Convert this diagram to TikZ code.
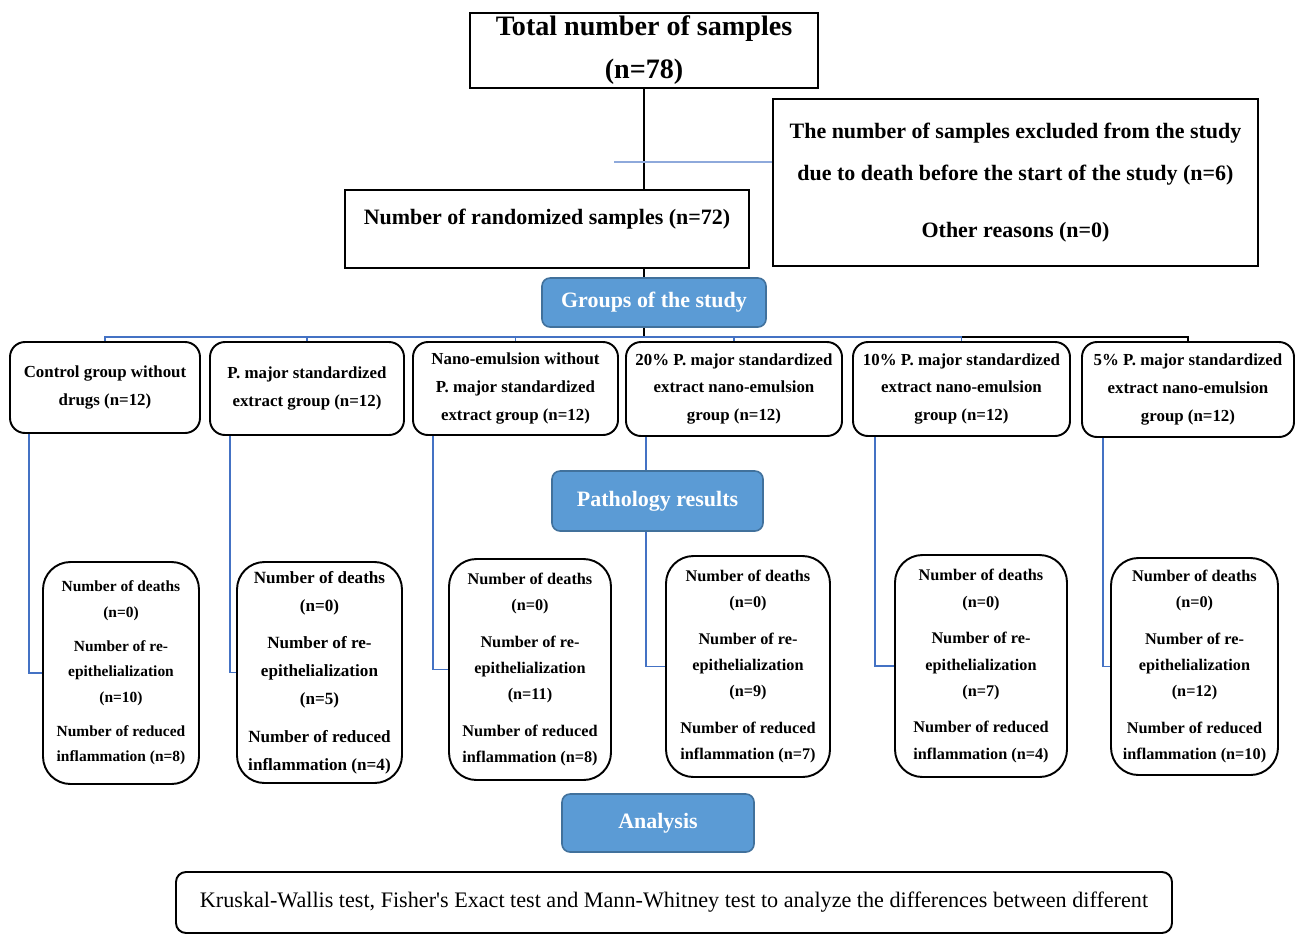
\documentclass[tikz,border=0pt]{standalone}
\usepackage{fontspec}
\setmainfont{Liberation Serif}
\usetikzlibrary{backgrounds}
\definecolor{headblue}{HTML}{5B9BD5}
\definecolor{headedge}{HTML}{41719C}
\definecolor{linkblue}{HTML}{4472C4}
\definecolor{exclblue}{HTML}{8EA9DB}
\newcommand\restext[4]{Number of deaths\\(n=#1)\\[#4]Number of re-\\epithelialization\\(n=#2)\\[#4]Number of reduced\\inflammation (n=#3)}

\begin{document}
\begin{tikzpicture}[x=0.02cm,y=-0.02cm,
  sz/.style 2 args={minimum width=#1*0.02cm, minimum height=#2*0.02cm},
  plainbox/.style={draw=black, line width=1.1pt, inner sep=0pt, align=center},
  groupbox/.style={plainbox, rounded corners=0.3cm, font=\bfseries\fontsize{9.6}{15.9}\selectfont},
  resultbox/.style={plainbox, rounded corners=0.55cm},
  headbox/.style={fill=headblue, draw=headedge, line width=0.9pt, rounded corners=0.16cm, inner sep=0pt, text=white, font=\bfseries\fontsize{12.5}{15}\selectfont},
  link/.style={linkblue, line width=0.9pt},
  stem/.style={black, line width=1.1pt}]
\useasboundingbox (0,0) rectangle (1296,934);

\node[plainbox, sz={348}{75}, font=\bfseries\fontsize{16}{24.4}\selectfont] (total) at (644,50.5) {Total number of samples\\(n=78)};
\node[plainbox, sz={485}{167}, font=\bfseries\fontsize{12.5}{23.8}\selectfont] (excl) at (1015.5,182.5) {The number of samples excluded from the study\\due to death before the start of the study (n=6)\\[8.5pt]Other reasons (n=0)};
\node[plainbox, sz={404}{78}] (rand) at (547,229) {};
\node[font=\bfseries\fontsize{12.5}{15}\selectfont] (randtext) at (547,219) {Number of randomized samples (n=72)};
\node[headbox, sz={224}{49}] (groups) at (654,302.5) {Groups of the study};

\node[groupbox, sz={190}{91}] (g1) at (105,387.5) {Control group without\\drugs (n=12)};
\node[groupbox, sz={194}{93}] (g2) at (307,388.5) {P. major standardized\\extract group (n=12)};
\node[groupbox, sz={205}{93}] (g3) at (515.5,388.5) {Nano-emulsion without\\P. major standardized\\extract group (n=12)};
\node[groupbox, sz={216}{94}] (g4) at (734,389) {20\% P. major standardized\\extract nano-emulsion\\group (n=12)};
\node[groupbox, sz={217}{94}] (g5) at (961.5,389) {10\% P. major standardized\\extract nano-emulsion\\group (n=12)};
\node[groupbox, sz={212}{95}] (g6) at (1188,389.5) {5\% P. major standardized\\extract nano-emulsion\\group (n=12)};

\node[headbox, sz={211}{60}] (patho) at (657.5,501) {Pathology results};

\node[resultbox, sz={156}{222}, font=\bfseries\fontsize{8.8}{14.5}\selectfont] (r1) at (121,673) {\restext{0}{10}{8}{4.8pt}};
\node[resultbox, sz={165}{221}, font=\bfseries\fontsize{9.75}{15.8}\selectfont] (r2) at (319.5,672.5) {\restext{0}{5}{4}{5.7pt}};
\node[resultbox, sz={162}{221}, font=\bfseries\fontsize{9.25}{15}\selectfont] (r3) at (530,669.5) {\restext{0}{11}{8}{5.7pt}};
\node[resultbox, sz={164}{221}, font=\bfseries\fontsize{9.25}{15}\selectfont] (r4) at (748,666.5) {\restext{0}{9}{7}{5.7pt}};
\node[resultbox, sz={172}{222}, font=\bfseries\fontsize{9.25}{15}\selectfont] (r5) at (981,666) {\restext{0}{7}{4}{5.7pt}};
\node[resultbox, sz={167}{217}, font=\bfseries\fontsize{9.25}{15}\selectfont] (r6) at (1194.5,666.5) {\restext{0}{12}{10}{5.7pt}};

\node[headbox, sz={192}{58}] (analysis) at (658,823) {Analysis};
\node[plainbox, rounded corners=0.2cm, sz={996}{61}, font=\fontsize{12.6}{15}\selectfont] (tests) at (674,902.5) {Kruskal-Wallis test, Fisher\textquotesingle s Exact test and Mann-Whitney test to analyze the differences between different};

\begin{scope}[on background layer]
\draw[stem] (total.south) -- (total.south |- rand.north);
\draw[stem] (total.south |- rand.south) -- (total.south |- groups.north);
\coordinate (exfrom) at (614,162);
\draw[exclblue, line width=0.7pt] (exfrom) -- (exfrom -| excl.west);
\coordinate (bar) at (0,337);
\draw[stem] (total.south |- groups.south) -- (total.south |- bar) -| (g6.north);
\draw[link] (g1.north) |- (g5.north |- bar) -- (g5.north);
\draw[link] (g2.north) -- (g2.north |- bar);
\draw[link] (g3.north) -- (g3.north |- bar);
\draw[link] (g4.north) -- (g4.north |- bar);
\draw[link] ([xshift=0.4cm]g1.south west) |- (r1.west);
\draw[link] ([xshift=0.42cm]g2.south west) |- (r2.west);
\draw[link] ([xshift=0.42cm]g3.south west) |- (r3.west);
\draw[link] ([xshift=0.42cm]g4.south west) |- (r4.west);
\draw[link] ([xshift=0.46cm]g5.south west) |- (r5.west);
\draw[link] ([xshift=0.44cm]g6.south west) |- (r6.west);
\end{scope}
\end{tikzpicture}
\end{document}
